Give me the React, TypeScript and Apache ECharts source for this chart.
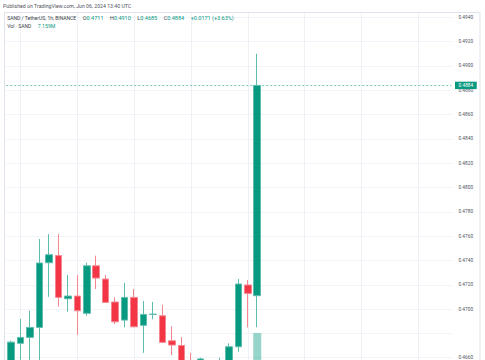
import React, { useEffect, useRef } from 'react';
import * as echarts from 'echarts';

// hourly candles, Jun 05 11:00 .. Jun 06 13:00 (UTC), then empty future slots
const categories = [
  '06-05 11:00', '06-05 12:00', '06-05 13:00', '06-05 14:00', '06-05 15:00', '06-05 16:00',
  '06-05 17:00', '06-05 18:00', '06-05 19:00', '06-05 20:00', '06-05 21:00', '06-05 22:00',
  '06-05 23:00', '06-06 00:00', '06-06 01:00', '06-06 02:00', '06-06 03:00', '06-06 04:00',
  '06-06 05:00', '06-06 06:00', '06-06 07:00', '06-06 08:00', '06-06 09:00', '06-06 10:00',
  '06-06 11:00', '06-06 12:00', '06-06 13:00', '06-06 14:00', '06-06 15:00', '06-06 16:00',
  '06-06 17:00', '06-06 18:00', '06-06 19:00', '06-06 20:00', '06-06 21:00', '06-06 22:00',
  '06-06 23:00', '06-07 00:00', '06-07 01:00', '06-07 02:00', '06-07 03:00', '06-07 04:00',
  '06-07 05:00', '06-07 06:00', '06-07 07:00', '06-07 08:00', '06-07 09:00',
];

const opens = [
  0.4652, 0.46718, 0.46767, 0.46849, 0.47381, 0.4744, 0.47085, 0.47107, 0.46965, 0.47356,
  0.47247, 0.47058, 0.46909, 0.47096, 0.46866, 0.46956, 0.46945, 0.46739, 0.467, 0.4652,
  0.4642, 0.46575, 0.465, 0.4657, 0.4669, 0.47198, 0.4711,
];
const highs = [
  0.4674, 0.46918, 0.46986, 0.47576, 0.47617, 0.47617, 0.4728, 0.4728, 0.47381, 0.47439,
  0.4728, 0.47096, 0.47216, 0.47165, 0.47066, 0.47058, 0.47035, 0.46858, 0.4677, 0.4664,
  0.466, 0.4657, 0.46599, 0.46718, 0.47247, 0.47239, 0.491,
];
const lows = [
  0.4648, 0.4655, 0.4656, 0.4657, 0.47101, 0.47019, 0.46978, 0.46786, 0.46945, 0.47165,
  0.4705, 0.46877, 0.46849, 0.4685, 0.4664, 0.46915, 0.4672, 0.46621, 0.4648, 0.4636,
  0.4638, 0.4645, 0.4647, 0.4655, 0.46649, 0.46849, 0.4685,
];
const closes = [
  0.46728, 0.46767, 0.46849, 0.47379, 0.47447, 0.47096, 0.47107, 0.46986, 0.47356, 0.47255,
  0.47055, 0.46895, 0.47096, 0.46854, 0.46956, 0.46958, 0.46726, 0.46704, 0.4652, 0.464,
  0.4659, 0.465, 0.4657, 0.4669, 0.47206, 0.47129, 0.4884,
];
// volume in millions SAND; only the latest bar rises into view
const volumes: (number | null)[] = [
  null, null, null, null, null, null, null, null, null, null, null, null, null, null,
  null, null, null, null, null, null, null, null, null, null, null, null, 7.159,
];

const priceMin = 0.464;
const priceMax = 0.496;
const priceStep = 0.002;
const hiddenPriceLabels = [0.464, 0.468, 0.496]; // off-page or under the volume badge
const gridTimes = ['06-05 12:00', '06-05 18:00', '06-06 00:00', '06-06 06:00', '06-06 12:00', '06-06 18:00', '06-07 00:00', '06-07 06:00'];

const UP = '#089981';
const DOWN = '#F23645';
const FONT = 'Roboto';
const OFF = 7; // chart canvas starts 7px above the visible page

export default function App() {
  const ref = useRef<HTMLDivElement>(null);
  useEffect(() => {
    const chart = echarts.init(ref.current!, null, { renderer: 'svg' });
    const n = closes.length;
    const last = n - 1;
    const chg = closes[last] - closes[last - 1];
    const pct = (chg / closes[last - 1]) * 100;
    const sign = chg >= 0 ? '+' : '';
    const candleData = opens.map((o, i) => [o, closes[i], lows[i], highs[i]]);
    const lastVol = volumes[last] as number;

    const rich = {
      d: { fontSize: 5, fontFamily: FONT, fill: '#3b3e48', color: '#3b3e48' },
      k: { fontSize: 5.5, fontFamily: FONT, fill: '#3b3e48', color: '#3b3e48' },
      g: { fontSize: 5.5, fontFamily: FONT, fill: UP, color: UP },
      gv: { fontSize: 5.2, fontFamily: FONT, fill: UP, color: UP },
      s: { width: 6.5, fontSize: 5 },
    };
    const line1 =
      `{d|SAND / TetherUS, 1h, BINANCE}{s| }{k|O}{g|${opens[last].toFixed(4)}}{s| }{k|H}{g|${highs[last].toFixed(4)}}{s| }` +
      `{k|L}{g|${lows[last].toFixed(4)}}{s| }{k|C}{g|${closes[last].toFixed(4)}}{s| }{g|${sign}${chg.toFixed(4)} (${sign}${pct.toFixed(2)}%)}`;
    const line2 = `{d|Vol · SAND}{s| }{gv|${lastVol.toFixed(3)}M}`;

    const option: any = {
      animation: false,
      backgroundColor: '#ffffff',
      textStyle: { fontFamily: FONT },
      grid: { left: 6.26, right: 33.6, top: 0, bottom: 0 },
      xAxis: {
        type: 'category',
        data: categories,
        boundaryGap: true,
        axisLine: { show: false },
        axisTick: { show: false },
        axisLabel: { show: false },
        splitLine: { show: false },
      },
      yAxis: [
        {
          type: 'value',
          position: 'right',
          min: priceMin,
          max: priceMax,
          interval: priceStep,
          axisLine: { show: false },
          axisTick: { show: false },
          splitLine: { lineStyle: { color: '#f0f3fa', width: 1 } },
          axisLabel: {
            formatter: (v: number) =>
              hiddenPriceLabels.some((h) => Math.abs(v - h) < 1e-6) ? '' : v.toFixed(4),
            fontSize: 4.8,
            color: '#50535e',
            margin: 7,
            fontFamily: FONT,
          },
        },
        { type: 'value', min: 0, max: 56.9, show: false, splitLine: { show: false } },
      ],
      series: [
        {
          type: 'bar',
          yAxisIndex: 1,
          data: volumes,
          barWidth: 8,
          itemStyle: { color: 'rgba(8,153,129,0.42)' },
          z: 1,
          markLine: {
            silent: true,
            symbol: 'none',
            precision: 4,
            z: 6,
            data: [
              {
                yAxis: lastVol,
                lineStyle: { opacity: 0, width: 0 },
                label: {
                  show: true,
                  position: 'end',
                  distance: 3.6,
                  formatter: `${lastVol.toFixed(3)}M`,
                  backgroundColor: '#2aa792',
                  color: '#ffffff',
                  fontSize: 4.8,
                  fontFamily: FONT,
                  padding: [1.2, 3.5, 1.2, 3.5],
                },
              },
            ],
          },
        },
        {
          type: 'candlestick',
          data: candleData,
          barWidth: 7,
          z: 3,
          itemStyle: {
            color: UP,
            color0: DOWN,
            borderColor: '#5dbdac',
            borderColor0: '#f5868f',
            borderWidth: 1,
          },
          markLine: {
            silent: true,
            symbol: 'none',
            precision: 4,
            z: 1,
            data: [
              ...gridTimes.map((t) => ({
                xAxis: t,
                lineStyle: { color: '#eef0f5', type: 'solid', width: 1 },
                label: { show: false },
              })),
              {
                yAxis: closes[last],
                lineStyle: { color: 'rgba(8,153,129,0.55)', type: [2, 2], width: 1 },
                label: {
                  show: true,
                  position: 'end',
                  distance: 3.6,
                  formatter: closes[last].toFixed(4),
                  backgroundColor: UP,
                  color: '#ffffff',
                  fontSize: 4.8,
                  fontFamily: FONT,
                  padding: [1.2, 3.5, 1.2, 3.5],
                },
              },
            ],
          },
        },
      ],
      graphic: [
        { type: 'rect', z: 100, shape: { x: 0, y: 0, width: 485, height: OFF + 12.5 }, style: { fill: '#ffffff' } },
        {
          type: 'rect',
          z: 101,
          shape: { x: 4.5, y: OFF + 12.5, width: 475.5, height: 400 },
          style: { fill: 'none', stroke: '#e0e3eb', lineWidth: 1 },
        },
        {
          type: 'text',
          z: 102,
          x: 3,
          y: OFF + 6,
          style: {
            text: 'Published on TradingView.com, Jun 06, 2024 13:40 UTC',
            fontSize: 5.2,
            fontFamily: FONT,
            fill: '#50535e',
            verticalAlign: 'middle',
          },
        },
        {
          type: 'text',
          z: 102,
          x: 7.3,
          y: OFF + 17.5,
          style: { text: line1, rich, fontSize: 5, fontFamily: FONT, fill: '#3b3e48', verticalAlign: 'middle' },
        },
        {
          type: 'text',
          z: 102,
          x: 7.3,
          y: OFF + 26,
          style: { text: line2, rich, fontSize: 5, fontFamily: FONT, fill: '#3b3e48', verticalAlign: 'middle' },
        },
      ],
    };
    chart.setOption(option);
    return () => chart.dispose();
  }, []);
  return (
    <div style={{ position: 'absolute', left: 0, top: 0, width: 485, height: 360, overflow: 'hidden', background: '#fff' }}>
      <div ref={ref} style={{ position: 'absolute', left: 0, top: -OFF, width: 485, height: 389 }} />
    </div>
  );
}
